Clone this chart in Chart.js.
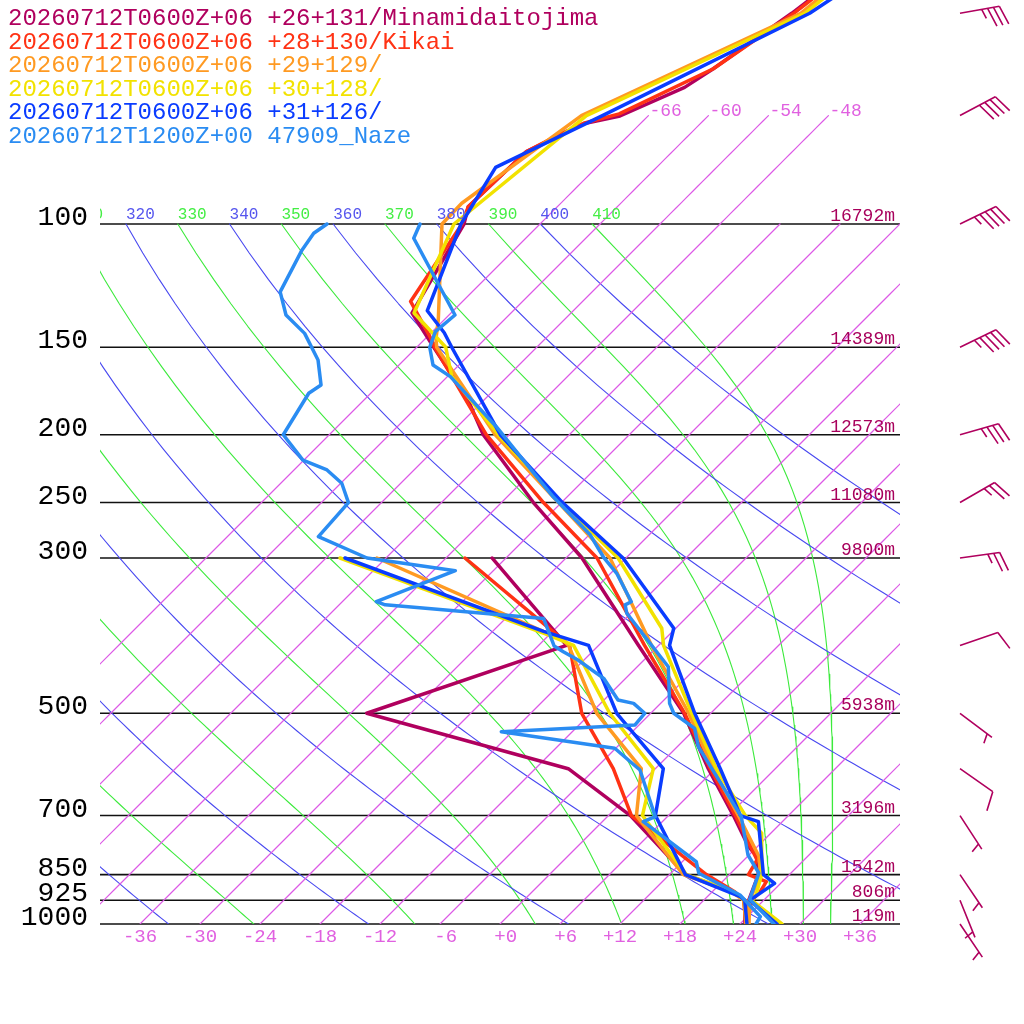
<!DOCTYPE html>
<html><head><meta charset="utf-8">
<script src="https://cdn.jsdelivr.net/npm/chart.js@4.4.1/dist/chart.umd.min.js"></script>
<style>html,body{margin:0;padding:0;background:#fff;}canvas{display:block;}</style>
</head><body>
<canvas id="c" width="1024" height="1024" style="width:1024px;height:1024px"></canvas>
<script>
// ---------- axis / reference values ----------
const PRESSURE_LEVELS = [100, 150, 200, 250, 300, 500, 700, 850, 925, 1000];
const PRESSURE_LABELS = ['100', '150', '200', '250', '300', '500', '700', '850', '925', '1000'];
const HEIGHT_LABELS = ['16792m', '14389m', '12573m', '11080m', '9800m', '5938m', '3196m', '1542m', '806m', '119m'];
const TEMP_TICKS = [-36, -30, -24, -18, -12, -6, 0, 6, 12, 18, 24, 30, 36];
const ISOTHERMS = [-66, -60, -54, -48, -42, -36, -30, -24, -18, -12, -6, 0, 6, 12, 18, 24, 30, 36];
const UPPER_ISOTHERMS = [-66, -60, -54, -48];
const DRY_THETA = [240, 260, 280, 300, 320, 340, 360, 380, 400];
const MOIST_THETA = [250, 270, 290, 310, 330, 350, 370, 390, 410];

// ---------- soundings (pressure hPa / temperature degC) ----------
const minamiTP = [30, 50, 60, 63.8, 70.1, 71.9, 78.8, 94.5, 100, 134, 150, 178, 200, 250, 300, 400, 500, 600, 700, 775, 800, 850, 925, 1000];
const minamiT  = [-57.0, -61.9, -64.2, -65.2, -68.8, -71.7, -74.6, -74.9, -73.6, -69.9, -64.3, -55.7, -50.6, -38.8, -28.4, -14.0, -2.7, 5.3, 12.5, 17.1, 18.9, 20.9, 22.5, 24.8];
const minamiTdP = [300, 400, 500, 600, 700, 850, 900, 925, 1000];
const minamiTd  = [-37.4, -21.2, -34.4, -8.7, 2.2, 13.6, 20.1, 22.1, 24.5];

const kikaiTP = [30, 50, 60, 69.6, 71.8, 74.2, 78.8, 94.5, 100, 129, 145, 150, 200, 250, 300, 400, 500, 600, 700, 810, 850, 870, 900, 925, 1000];
const kikaiT  = [-57.0, -61.7, -64.2, -69.1, -71.7, -72.9, -74.6, -74.9, -73.8, -71.2, -65.7, -64.2, -50.3, -37.8, -26.9, -13.4, -2.6, 5.5, 12.7, 19.3, 19.9, 22.4, 22.8, 22.8, 24.7];
const kikaiTdP = [300, 400, 500, 600, 700, 800, 850, 900, 925, 1000];
const kikaiTd  = [-40.1, -20.9, -12.9, -4.2, 2.3, 11.5, 15.7, 20.3, 22.0, 24.6];

const p29TP = [30, 50, 70, 93.4, 100, 137, 146, 150, 200, 250, 300, 400, 500, 600, 700, 800, 850, 925, 1000];
const p29T  = [-57.5, -61.0, -72.7, -75.9, -75.8, -66.6, -64.9, -64.0, -49.4, -36.3, -25.6, -12.7, -2.2, 5.8, 13.0, 19.1, 21.1, 22.6, 24.9];
const p29TdP = [300, 393, 400, 500, 600, 700, 850, 900, 925, 1000];
const p29Td  = [-48.9, -22.1, -21.0, -11.4, -1.4, 2.8, 13.4, 20.0, 22.0, 24.6];

const p30TP = [30, 50, 70, 100, 134, 150, 165, 200, 250, 300, 378, 400, 500, 600, 700, 742, 800, 850, 909, 925, 1000];
const p30T  = [-56.5, -60.6, -72.2, -74.6, -69.7, -63.1, -59.6, -49.1, -36.0, -24.8, -13.4, -11.5, -1.9, 6.1, 13.7, 17.1, 19.4, 21.2, 22.7, 22.8, 28.2];
const p30TdP = [300, 386, 400, 500, 600, 700, 850, 900, 925, 1000];
const p30Td  = [-52.6, -24.2, -20.5, -10.1, -0.2, 3.4, 13.7, 20.2, 22.1, 24.7];

const p31TP = [30, 50, 70, 83, 100, 133, 143, 150, 200, 250, 300, 378, 400, 500, 600, 700, 714, 850, 875, 925, 1000];
const p31T  = [-52.3, -60.1, -70.6, -76.1, -73.9, -68.6, -64.7, -62.5, -48.9, -35.9, -24.3, -12.2, -10.9, -1.6, 6.5, 13.2, 15.6, 21.4, 23.4, 22.6, 27.7];
const p31TdP = [300, 382, 400, 500, 600, 700, 850, 914, 925, 1000];
const p31Td  = [-52.1, -24.9, -19.0, -9.4, 0.8, 4.7, 13.6, 21.3, 22.1, 24.7];

const nazeTP = [100, 104.8, 134.9, 142.5, 150, 159, 165.2, 194.8, 227, 245.3, 278, 300, 315.5, 346.4, 350, 359.8, 429, 484, 500, 525.5, 558, 702.6, 797, 846, 922, 1000];
const nazeT  = [-78.0, -77.2, -65.4, -65.7, -64.7, -62.6, -59.7, -50.1, -41.7, -37.4, -29.9, -26.2, -23.4, -19.1, -19.4, -18.4, -8.9, -5.1, -3.7, -0.1, 2.1, 13.4, 17.9, 20.8, 22.5, 27.4];
const nazeTdP = [100, 103.1, 108.9, 125, 134.9, 143.3, 156.4, 169.8, 174.5, 200, 217.4, 224.6, 234.6, 250, 279.6, 300, 312.8, 346.4, 350, 366, 400.6, 408.3, 419.6, 445.7, 478.6, 484, 500, 519.6, 531.2, 561, 602.6, 702.6, 714.3, 814.8, 846.2, 909, 976, 1000];
const nazeTd  = [-87.3, -87.7, -87.2, -85.2, -82.3, -78.6, -74.6, -71.8, -72.2, -70.6, -66.1, -62.7, -59.9, -57.3, -56.9, -49.9, -39.8, -44.6, -43.4, -26.2, -22.4, -20.9, -18.6, -14.2, -10.6, -8.7, -6.6, -6.4, -19.1, -6.1, -1.4, 4.8, 4.1, 13.4, 14.8, 21.1, 25.3, 25.6];

// wind (Minamidaitojima): pressure, direction deg, speed kt
const windP   = [50, 70, 100, 150, 200, 250, 300, 400, 500, 600, 700, 850, 925, 1000];
const windDir = [80, 62, 64, 64, 74, 60, 82, 71, 127, 125, 147, 146, 158, 146];
const windSpd = [35, 40, 45, 45, 35, 25, 25, 10, 5, 10, 5, 5, 5, 5];

const LEGEND_TEXT = [
  '20260712T0600Z+06 +26+131/Minamidaitojima',
  '20260712T0600Z+06 +28+130/Kikai',
  '20260712T0600Z+06 +29+129/',
  '20260712T0600Z+06 +30+128/',
  '20260712T0600Z+06 +31+126/',
  '20260712T1200Z+00 47909_Naze'
];
const SERIES_COLORS = ['rgb(176,0,94)', 'rgb(255,50,20)', 'rgb(255,154,34)', 'rgb(242,226,0)', 'rgb(10,60,255)', 'rgb(42,140,242)'];
const ISO_COLOR = 'rgb(220,90,230)';
const DRY_COLOR = 'rgb(72,72,240)';
const MOIST_COLOR = 'rgb(60,234,60)';

// ---------- helpers ----------
const KAPPA = 0.2857, RD = 287.04, CPD = 1005.7, LV = 2.501e6, EPS = 0.622;
const P_TOP = 1000 / Math.pow(10, 924 / 700);
const FONT = "'Liberation Mono','DejaVu Sans Mono',monospace";
function skewX(T, p) { return T + 70 * Math.log10(1000 / p); }
function profile(ps, ts) { return ps.map((p, i) => ({ x: skewX(ts[i], p), y: p })); }

function isoLine(t, pBottom, pTop) {
  const pts = [];
  const n = 20;
  for (let k = 0; k <= n; k++) {
    const p = pBottom * Math.pow(pTop / pBottom, k / n);
    pts.push({ x: skewX(t, p), y: p });
  }
  return pts;
}
function dryLine(theta) {
  const pts = [];
  for (let p = 1000; p >= 100; p -= 10) pts.push({ x: skewX(theta * Math.pow(p / 1000, KAPPA) - 273.15, p), y: p });
  return pts;
}
function moistRate(p, T) {
  const es = 6.112 * Math.exp(17.67 * (T - 273.15) / (T - 29.65));
  const rs = EPS * es / (p - es);
  return (RD * T + LV * rs) / (CPD + LV * LV * rs * EPS / (RD * T * T)) / p;
}
function moistLine(theta) {
  let p = 100, T = theta * Math.pow(0.1, KAPPA);
  const pts = [{ x: skewX(T - 273.15, p), y: p }];
  const dp = 2;
  while (p < 1000 - 1e-9) {
    const k1 = moistRate(p, T), k2 = moistRate(p + dp / 2, T + dp / 2 * k1);
    const k3 = moistRate(p + dp / 2, T + dp / 2 * k2), k4 = moistRate(p + dp, T + dp * k3);
    T += dp / 6 * (k1 + 2 * k2 + 2 * k3 + k4); p += dp;
    if (Math.round(p) % 10 === 0) pts.push({ x: skewX(T - 273.15, p), y: p });
  }
  return pts;
}

function lineDs(data, color, width, order) {
  return {
    data, showLine: true, borderColor: color, backgroundColor: color, borderWidth: width,
    pointRadius: 0, pointHoverRadius: 0, fill: false, tension: 0, order,
    borderJoinStyle: 'round', borderCapStyle: 'round'
  };
}

const datasets = [];
const series = [
  [minamiTP, minamiT, minamiTdP, minamiTd],
  [kikaiTP, kikaiT, kikaiTdP, kikaiTd],
  [p29TP, p29T, p29TdP, p29Td],
  [p30TP, p30T, p30TdP, p30Td],
  [p31TP, p31T, p31TdP, p31Td],
  [nazeTP, nazeT, nazeTdP, nazeTd]
];
series.forEach((s, i) => {
  const ord = 6 - i;
  datasets.push(lineDs(profile(s[0], s[1]), SERIES_COLORS[i], 3.5, ord));
  datasets.push(lineDs(profile(s[2], s[3]), SERIES_COLORS[i], 3.5, ord));
});
ISOTHERMS.forEach(t => datasets.push(lineDs(isoLine(t, 1000, 100), ISO_COLOR, 1.2, 20)));
UPPER_ISOTHERMS.forEach(t => datasets.push(lineDs(isoLine(t, 100, 70), ISO_COLOR, 1.2, 20)));
DRY_THETA.forEach(th => datasets.push(lineDs(dryLine(th), DRY_COLOR, 1.1, 21)));
MOIST_THETA.forEach(th => datasets.push(lineDs(moistLine(th), MOIST_COLOR, 1.1, 22)));

function drawBarb(ctx, x0, y0, dirDeg, spd) {
  const L = 40, sp = 6, full = 20, half = 10, rot = 72 * Math.PI / 180;
  const a = dirDeg * Math.PI / 180;
  const ux = Math.sin(a), uy = -Math.cos(a);
  const tx = x0 + ux * L, ty = y0 + uy * L;
  const fx = ux * Math.cos(rot) - uy * Math.sin(rot), fy = ux * Math.sin(rot) + uy * Math.cos(rot);
  ctx.beginPath();
  ctx.moveTo(x0, y0); ctx.lineTo(tx, ty);
  const s = Math.round(spd / 5) * 5;
  const n10 = Math.floor(s / 10), n5 = (s % 10) >= 5 ? 1 : 0;
  let i = 0;
  for (let k = 0; k < n10; k++, i++) {
    const px = tx - ux * i * sp, py = ty - uy * i * sp;
    ctx.moveTo(px, py); ctx.lineTo(px + fx * full, py + fy * full);
  }
  if (n5) {
    if (i === 0) i = 1;
    const px = tx - ux * i * sp, py = ty - uy * i * sp;
    ctx.moveTo(px, py); ctx.lineTo(px + fx * half, py + fy * half);
  }
  ctx.stroke();
}

const skewPlugin = {
  id: 'skew',
  beforeDraw(chart) {
    const ctx = chart.ctx;
    ctx.save(); ctx.fillStyle = '#fff'; ctx.fillRect(0, 0, chart.width, chart.height); ctx.restore();
  },
  beforeDatasetsDraw(chart) {
    const ctx = chart.ctx, ca = chart.chartArea, ys = chart.scales.y;
    ctx.save();
    ctx.strokeStyle = '#111'; ctx.lineWidth = 1.6;
    PRESSURE_LEVELS.forEach(p => {
      const y = ys.getPixelForValue(p);
      ctx.beginPath(); ctx.moveTo(ca.left, y); ctx.lineTo(ca.right, y); ctx.stroke();
    });
    ctx.restore();
  },
  afterDraw(chart) {
    const ctx = chart.ctx, ca = chart.chartArea, xs = chart.scales.x, ys = chart.scales.y;
    const px = (T, p) => xs.getPixelForValue(skewX(T, p));
    const py = p => ys.getPixelForValue(p);
    ctx.save();
    // pressure labels
    ctx.font = '28px ' + FONT; ctx.fillStyle = '#000'; ctx.textAlign = 'right'; ctx.textBaseline = 'alphabetic';
    PRESSURE_LEVELS.forEach((p, i) => ctx.fillText(PRESSURE_LABELS[i], 88, py(p) + 1));
    // height labels
    ctx.font = '18px ' + FONT; ctx.fillStyle = '#a8005c';
    PRESSURE_LEVELS.forEach((p, i) => ctx.fillText(HEIGHT_LABELS[i], 895, py(p) - 3));
    // temperature tick labels
    ctx.font = '19px ' + FONT; ctx.fillStyle = '#e060e0'; ctx.textAlign = 'center';
    TEMP_TICKS.forEach(t => {
      let s = (t > 0 ? '+' + t : (t === 0 ? '+0' : String(t)));
      while (s.length < 3) s = ' ' + s;
      ctx.fillText(s, px(t, 1000), 942);
    });
    // upper isotherm labels
    ctx.font = '18px ' + FONT; ctx.textAlign = 'left';
    UPPER_ISOTHERMS.forEach(t => ctx.fillText(String(t), px(t, 70) + 1, py(70) + 0.5));
    // theta labels
    ctx.save();
    ctx.beginPath(); ctx.rect(ca.left, 0, ca.right - ca.left, chart.height); ctx.clip();
    ctx.font = '16px ' + FONT; ctx.textAlign = 'left';
    const yl = py(100) - 5.5;
    DRY_THETA.forEach(th => { ctx.fillStyle = '#5555ee'; ctx.fillText(String(th), px(th * Math.pow(0.1, KAPPA) - 273.15, 100), yl); });
    MOIST_THETA.forEach(th => { ctx.fillStyle = '#44ee44'; ctx.fillText(String(th), px(th * Math.pow(0.1, KAPPA) - 273.15, 100), yl); });
    ctx.restore();
    // legend
    ctx.font = '24px ' + FONT; ctx.textAlign = 'left';
    LEGEND_TEXT.forEach((t, i) => { ctx.fillStyle = SERIES_COLORS[i]; ctx.fillText(t, 8, 25 + i * 23.6); });
    // wind barbs
    ctx.strokeStyle = 'rgb(176,0,94)'; ctx.lineWidth = 1.6; ctx.lineCap = 'butt';
    windP.forEach((p, i) => drawBarb(ctx, 960, py(p), windDir[i], windSpd[i]));
    ctx.restore();
  }
};

new Chart(document.getElementById('c'), {
  type: 'scatter',
  data: { datasets },
  options: {
    responsive: false, devicePixelRatio: 1, animation: false, events: [],
    layout: { padding: { left: 100, right: 124, top: 0, bottom: 100 } },
    plugins: { legend: { display: false }, tooltip: { enabled: false } },
    scales: {
      x: { type: 'linear', min: -40, max: 40, display: false },
      y: { type: 'logarithmic', min: P_TOP, max: 1000, reverse: true, display: false }
    }
  },
  plugins: [skewPlugin]
});
</script>
</body></html>
